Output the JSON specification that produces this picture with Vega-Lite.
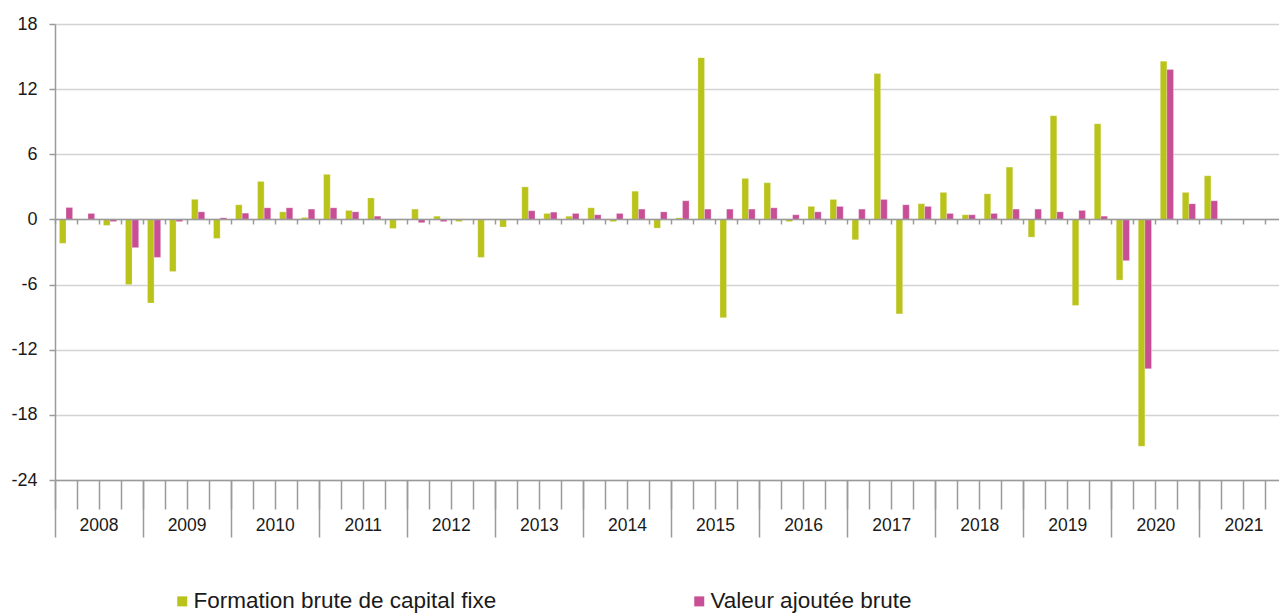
{
  "$schema": "https://vega.github.io/schema/vega-lite/v6.json",
  "width": 1224,
  "height": 456,
  "autosize": {"type": "none"},
  "padding": {"left": 55, "top": 24, "right": 0, "bottom": 135},
  "background": "white",
  "config": {"view": {"stroke": null}, "font": "Liberation Sans"},
  "data": {
    "values": [
      {"q": "2008T1", "year": "2008", "Formation brute de capital fixe": -2.2, "Valeur ajoutée brute": 1.1},
      {"q": "2008T2", "year": "2008", "Formation brute de capital fixe": -0.05, "Valeur ajoutée brute": 0.55},
      {"q": "2008T3", "year": "2008", "Formation brute de capital fixe": -0.55, "Valeur ajoutée brute": -0.2},
      {"q": "2008T4", "year": "2008", "Formation brute de capital fixe": -6.0, "Valeur ajoutée brute": -2.6},
      {"q": "2009T1", "year": "2009", "Formation brute de capital fixe": -7.7, "Valeur ajoutée brute": -3.5},
      {"q": "2009T2", "year": "2009", "Formation brute de capital fixe": -4.8, "Valeur ajoutée brute": -0.2},
      {"q": "2009T3", "year": "2009", "Formation brute de capital fixe": 1.85, "Valeur ajoutée brute": 0.7},
      {"q": "2009T4", "year": "2009", "Formation brute de capital fixe": -1.75, "Valeur ajoutée brute": 0.15},
      {"q": "2010T1", "year": "2010", "Formation brute de capital fixe": 1.35, "Valeur ajoutée brute": 0.58},
      {"q": "2010T2", "year": "2010", "Formation brute de capital fixe": 3.5, "Valeur ajoutée brute": 1.07},
      {"q": "2010T3", "year": "2010", "Formation brute de capital fixe": 0.7, "Valeur ajoutée brute": 1.07},
      {"q": "2010T4", "year": "2010", "Formation brute de capital fixe": 0.18, "Valeur ajoutée brute": 0.95},
      {"q": "2011T1", "year": "2011", "Formation brute de capital fixe": 4.15, "Valeur ajoutée brute": 1.07},
      {"q": "2011T2", "year": "2011", "Formation brute de capital fixe": 0.83, "Valeur ajoutée brute": 0.7},
      {"q": "2011T3", "year": "2011", "Formation brute de capital fixe": 1.98, "Valeur ajoutée brute": 0.3},
      {"q": "2011T4", "year": "2011", "Formation brute de capital fixe": -0.83, "Valeur ajoutée brute": 0.02},
      {"q": "2012T1", "year": "2012", "Formation brute de capital fixe": 0.95, "Valeur ajoutée brute": -0.3},
      {"q": "2012T2", "year": "2012", "Formation brute de capital fixe": 0.3, "Valeur ajoutée brute": -0.2},
      {"q": "2012T3", "year": "2012", "Formation brute de capital fixe": -0.2, "Valeur ajoutée brute": 0.02},
      {"q": "2012T4", "year": "2012", "Formation brute de capital fixe": -3.5, "Valeur ajoutée brute": 0.02},
      {"q": "2013T1", "year": "2013", "Formation brute de capital fixe": -0.7, "Valeur ajoutée brute": 0.02},
      {"q": "2013T2", "year": "2013", "Formation brute de capital fixe": 3.0, "Valeur ajoutée brute": 0.8},
      {"q": "2013T3", "year": "2013", "Formation brute de capital fixe": 0.55, "Valeur ajoutée brute": 0.67},
      {"q": "2013T4", "year": "2013", "Formation brute de capital fixe": 0.3, "Valeur ajoutée brute": 0.55},
      {"q": "2014T1", "year": "2014", "Formation brute de capital fixe": 1.07, "Valeur ajoutée brute": 0.43},
      {"q": "2014T2", "year": "2014", "Formation brute de capital fixe": -0.2, "Valeur ajoutée brute": 0.55},
      {"q": "2014T3", "year": "2014", "Formation brute de capital fixe": 2.6, "Valeur ajoutée brute": 0.95},
      {"q": "2014T4", "year": "2014", "Formation brute de capital fixe": -0.8, "Valeur ajoutée brute": 0.7},
      {"q": "2015T1", "year": "2015", "Formation brute de capital fixe": 0.15, "Valeur ajoutée brute": 1.72},
      {"q": "2015T2", "year": "2015", "Formation brute de capital fixe": 14.9, "Valeur ajoutée brute": 0.95},
      {"q": "2015T3", "year": "2015", "Formation brute de capital fixe": -9.05, "Valeur ajoutée brute": 0.95},
      {"q": "2015T4", "year": "2015", "Formation brute de capital fixe": 3.78, "Valeur ajoutée brute": 0.95},
      {"q": "2016T1", "year": "2016", "Formation brute de capital fixe": 3.38, "Valeur ajoutée brute": 1.07},
      {"q": "2016T2", "year": "2016", "Formation brute de capital fixe": -0.2, "Valeur ajoutée brute": 0.43},
      {"q": "2016T3", "year": "2016", "Formation brute de capital fixe": 1.2, "Valeur ajoutée brute": 0.7},
      {"q": "2016T4", "year": "2016", "Formation brute de capital fixe": 1.84, "Valeur ajoutée brute": 1.2},
      {"q": "2017T1", "year": "2017", "Formation brute de capital fixe": -1.87, "Valeur ajoutée brute": 0.95},
      {"q": "2017T2", "year": "2017", "Formation brute de capital fixe": 13.45, "Valeur ajoutée brute": 1.84},
      {"q": "2017T3", "year": "2017", "Formation brute de capital fixe": -8.7, "Valeur ajoutée brute": 1.35},
      {"q": "2017T4", "year": "2017", "Formation brute de capital fixe": 1.45, "Valeur ajoutée brute": 1.2},
      {"q": "2018T1", "year": "2018", "Formation brute de capital fixe": 2.49, "Valeur ajoutée brute": 0.55},
      {"q": "2018T2", "year": "2018", "Formation brute de capital fixe": 0.43, "Valeur ajoutée brute": 0.43},
      {"q": "2018T3", "year": "2018", "Formation brute de capital fixe": 2.36, "Valeur ajoutée brute": 0.55},
      {"q": "2018T4", "year": "2018", "Formation brute de capital fixe": 4.82, "Valeur ajoutée brute": 0.95},
      {"q": "2019T1", "year": "2019", "Formation brute de capital fixe": -1.63, "Valeur ajoutée brute": 0.95},
      {"q": "2019T2", "year": "2019", "Formation brute de capital fixe": 9.55, "Valeur ajoutée brute": 0.7},
      {"q": "2019T3", "year": "2019", "Formation brute de capital fixe": -7.92, "Valeur ajoutée brute": 0.83},
      {"q": "2019T4", "year": "2019", "Formation brute de capital fixe": 8.81, "Valeur ajoutée brute": 0.3},
      {"q": "2020T1", "year": "2020", "Formation brute de capital fixe": -5.59, "Valeur ajoutée brute": -3.8},
      {"q": "2020T2", "year": "2020", "Formation brute de capital fixe": -20.9, "Valeur ajoutée brute": -13.75},
      {"q": "2020T3", "year": "2020", "Formation brute de capital fixe": 14.58, "Valeur ajoutée brute": 13.8},
      {"q": "2020T4", "year": "2020", "Formation brute de capital fixe": 2.49, "Valeur ajoutée brute": 1.44},
      {"q": "2021T1", "year": "2021", "Formation brute de capital fixe": 4.02, "Valeur ajoutée brute": 1.72}
    ]
  },
  "layer": [
    {
      "transform": [{"fold": ["Formation brute de capital fixe", "Valeur ajoutée brute"], "as": ["serie", "valeur"]}],
      "mark": {"type": "bar", "stroke": "white", "strokeOpacity": 0.5, "strokeWidth": 0.5},
      "encoding": {
        "x": {
          "field": "q", "type": "nominal",
          "scale": {"domain": ["2008T1","2008T2","2008T3","2008T4","2009T1","2009T2","2009T3","2009T4","2010T1","2010T2","2010T3","2010T4","2011T1","2011T2","2011T3","2011T4","2012T1","2012T2","2012T3","2012T4","2013T1","2013T2","2013T3","2013T4","2014T1","2014T2","2014T3","2014T4","2015T1","2015T2","2015T3","2015T4","2016T1","2016T2","2016T3","2016T4","2017T1","2017T2","2017T3","2017T4","2018T1","2018T2","2018T3","2018T4","2019T1","2019T2","2019T3","2019T4","2020T1","2020T2","2020T3","2020T4","2021T1","2021T2","2021T3","2021T4"], "range": [0, 1233], "paddingInner": 0, "paddingOuter": 0},
          "axis": {"orient": "bottom", "offset": -261, "labels": false, "grid": false, "title": null, "domainColor": "#9a9a9a", "domainWidth": 1.5, "tickColor": "#9a9a9a", "tickWidth": 1.5, "tickSize": 5, "bandPosition": 0, "zindex": 1}
        },
        "y": {
          "field": "valeur", "type": "quantitative",
          "scale": {"domain": [-24, 18], "nice": false, "zero": false},
          "axis": {"values": [-24, -18, -12, -6, 0, 6, 12, 18], "labelExpr": "'' + datum.value", "grid": true, "gridColor": "#d3d3d3", "gridWidth": 1.5, "domainColor": "#9a9a9a", "domainWidth": 1.5, "tickColor": "#9a9a9a", "tickWidth": 1.5, "tickSize": 6, "labelFontSize": 18, "labelPadding": 12, "labelColor": "#1a1a1a", "title": null}
        },
        "xOffset": {"field": "serie", "type": "nominal", "scale": {"domain": ["Formation brute de capital fixe", "Valeur ajoutée brute"], "paddingInner": 0, "paddingOuter": 0.667}},
        "color": {
          "field": "serie", "type": "nominal",
          "scale": {"domain": ["Formation brute de capital fixe", "Valeur ajoutée brute"], "range": ["#b9c31a", "#c84f96"]},
          "legend": {"orient": "none", "legendX": 116, "legendY": 566, "direction": "horizontal", "title": null, "symbolType": "square", "symbolSize": 100, "symbolStrokeWidth": 0, "labelFontSize": 22.5, "labelLimit": 600, "labelOffset": 0, "columnPadding": 191, "labelColor": "#1a1a1a", "padding": 0}
        }
      }
    },
    {
      "mark": {"type": "bar", "opacity": 0},
      "encoding": {
        "x": {
          "field": "q", "type": "nominal",
          "scale": {"domain": ["2008T1","2008T2","2008T3","2008T4","2009T1","2009T2","2009T3","2009T4","2010T1","2010T2","2010T3","2010T4","2011T1","2011T2","2011T3","2011T4","2012T1","2012T2","2012T3","2012T4","2013T1","2013T2","2013T3","2013T4","2014T1","2014T2","2014T3","2014T4","2015T1","2015T2","2015T3","2015T4","2016T1","2016T2","2016T3","2016T4","2017T1","2017T2","2017T3","2017T4","2018T1","2018T2","2018T3","2018T4","2019T1","2019T2","2019T3","2019T4","2020T1","2020T2","2020T3","2020T4","2021T1","2021T2","2021T3","2021T4"], "range": [0, 1233], "paddingInner": 0, "paddingOuter": 0},
          "axis": {"orient": "bottom", "labels": false, "grid": false, "title": null, "domainColor": "#9a9a9a", "domainWidth": 1.5, "tickColor": "#9a9a9a", "tickWidth": 1.5, "tickSize": 29, "bandPosition": 0}
        }
      }
    },
    {
      "mark": {"type": "bar", "opacity": 0},
      "encoding": {
        "x": {
          "field": "year", "type": "nominal",
          "scale": {"domain": ["2008","2009","2010","2011","2012","2013","2014","2015","2016","2017","2018","2019","2020","2021"], "range": [0, 1233], "paddingInner": 0, "paddingOuter": 0},
          "axis": {"orient": "bottom", "labels": false, "grid": false, "domain": false, "title": null, "tickColor": "#9a9a9a", "tickWidth": 1.5, "tickSize": 57, "bandPosition": 0}
        }
      }
    },
    {
      "mark": {"type": "bar", "opacity": 0},
      "encoding": {
        "x": {
          "field": "year", "type": "nominal",
          "scale": {"domain": ["2008","2009","2010","2011","2012","2013","2014","2015","2016","2017","2018","2019","2020","2021"], "range": [0, 1233], "paddingInner": 0, "paddingOuter": 0},
          "axis": {"orient": "bottom", "ticks": false, "grid": false, "domain": false, "title": null, "labelAngle": 0, "labelPadding": 36, "labelFontSize": 17.5, "labelColor": "#1a1a1a"}
        }
      }
    }
  ],
  "resolve": {"scale": {"x": "independent"}, "axis": {"x": "independent"}}
}
